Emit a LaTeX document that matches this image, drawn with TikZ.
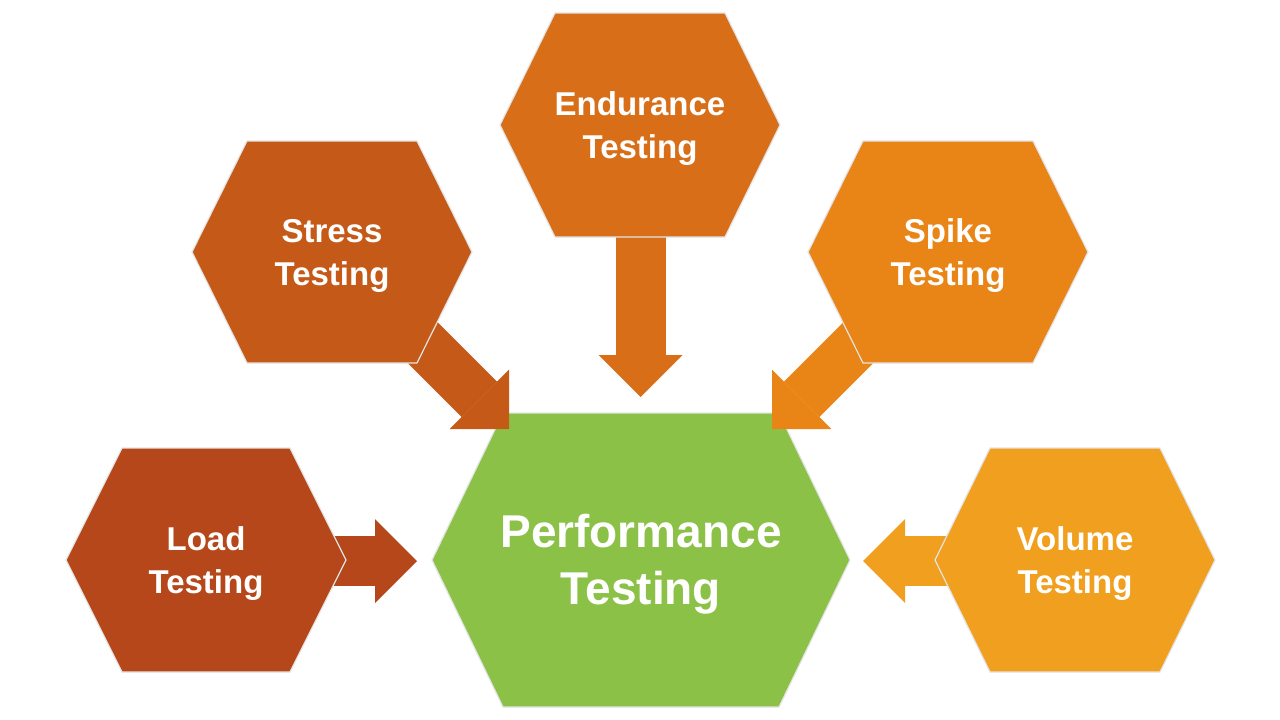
\documentclass[tikz,border=0pt]{standalone}
\usepackage{fontspec}
\setmainfont{Liberation Sans}
\usetikzlibrary{arrows.meta}
\definecolor{loadc}{RGB}{181,71,26}
\definecolor{stressc}{RGB}{197,90,24}
\definecolor{endc}{RGB}{216,111,24}
\definecolor{spikec}{RGB}{232,133,22}
\definecolor{volc}{RGB}{240,159,30}
\definecolor{greenc}{RGB}{139,193,70}
\definecolor{hexline}{RGB}{228,228,228}
\newcommand\hexagon[7]{%
  \filldraw[fill=#7, draw=hexline, line width=1.2pt]
    ({#2-#4},#3) -- ({#2-#5},{#3-#6}) -- ({#2+#5},{#3-#6}) -- ({#2+#4},#3)
    -- ({#2+#5},{#3+#6}) -- ({#2-#5},{#3+#6}) -- cycle;
  \coordinate (#1) at (#2,#3);}
\tikzset{
  fatarrow/.style={draw=#1, line width=50pt,
    -{Triangle[length=42pt,width=84pt,line width=0pt,fill=#1]}},
  smalltxt/.style={text=white, align=center, inner sep=0pt, yshift=-4pt,
    font=\fontsize{33}{43}\selectfont\bfseries},
  bigtxt/.style={text=white, align=center, inner sep=0pt, yshift=-4pt,
    font=\fontsize{46}{57}\selectfont\bfseries}
}
\begin{document}
\begin{tikzpicture}[x=1pt,y=-1pt]
\useasboundingbox[fill=white] (0,0) rectangle (1280,720);
% central hexagon
\hexagon{P}{641}{560}{209}{138}{147}{greenc}
% arrow targets and starts
\coordinate (tE) at (640.5,397);
\coordinate (sE) at (640.5,200);
\coordinate (tL) at (417,561);
\coordinate (sL) at (300,561);
\coordinate (tV) at (863,561);
\coordinate (sV) at (980,561);
\coordinate (tS) at (509,429);
\coordinate (sS) at (400,320);
\coordinate (tK) at (772,429);
\coordinate (sK) at (881,320);
\draw[fatarrow=endc] (sE) -- (tE);
\draw[fatarrow=loadc] (sL) -- (tL);
\draw[fatarrow=volc] (sV) -- (tV);
\draw[fatarrow=stressc] (sS) -- (tS);
\draw[fatarrow=spikec] (sK) -- (tK);
% outer hexagons
\hexagon{E}{640}{125}{140}{85}{112}{endc}
\hexagon{S}{332}{252}{140}{85}{111}{stressc}
\hexagon{K}{948}{252}{140}{85}{111}{spikec}
\hexagon{L}{206}{560}{140}{84}{112}{loadc}
\hexagon{V}{1075}{560}{140}{85}{112}{volc}
% labels
\node[bigtxt] (Pt) at (P) {Performance\\Testing};
\node[smalltxt] (Et) at (E) {Endurance\\Testing};
\node[smalltxt] (St) at (S) {Stress\\Testing};
\node[smalltxt] (Kt) at (K) {Spike\\Testing};
\node[smalltxt] (Lt) at (L) {Load\\Testing};
\node[smalltxt] (Vt) at (V) {Volume\\Testing};
\end{tikzpicture}
\end{document}
